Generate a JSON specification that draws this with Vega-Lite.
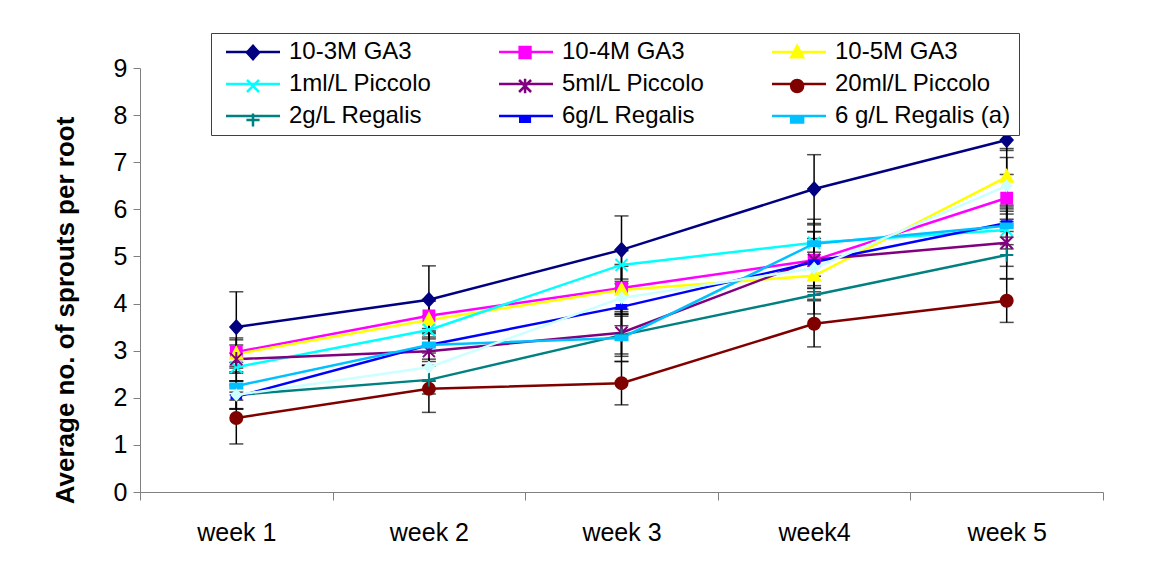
{
  "$schema": "https://vega.github.io/schema/vega-lite/v6.json",
  "width": 963,
  "height": 424,
  "autosize": "none",
  "padding": {"left": 140, "top": 68, "right": 46, "bottom": 73},
  "background": "white",
  "config": {
    "font": "Liberation Sans",
    "view": {"stroke": null},
    "axis": {"grid": false, "labelFont": "Liberation Sans", "titleFont": "Liberation Sans", "labelColor": "black", "titleColor": "black", "domainColor": "#808080", "tickColor": "#808080"},
    "legend": {"orient": "none", "legendX": 71, "legendY": -35, "direction": "horizontal", "columns": 3, "gridAlign": "all",
      "columnPadding": 25, "rowPadding": 8, "labelFontSize": 24, "labelFont": "Liberation Sans", "labelColor": "black", "labelLimit": 400,
      "symbolSize": 144, "labelOffset": 24, "symbolOffset": 23, "padding": 7, "symbolStrokeWidth": 2.5, "symbolOpacity": 1}
  },
  "data": {"values": [
    {"series": "10-3M GA3", "week": "week 1", "value": 3.50, "err": 0.75},
    {"series": "10-3M GA3", "week": "week 2", "value": 4.08, "err": 0.72},
    {"series": "10-3M GA3", "week": "week 3", "value": 5.14, "err": 0.72},
    {"series": "10-3M GA3", "week": "week4", "value": 6.43, "err": 0.73},
    {"series": "10-3M GA3", "week": "week 5", "value": 7.47, "err": 0.22},
    {"series": "10-4M GA3", "week": "week 1", "value": 2.97, "err": 0.3},
    {"series": "10-4M GA3", "week": "week 2", "value": 3.74, "err": 0.35},
    {"series": "10-4M GA3", "week": "week 3", "value": 4.33, "err": 0.5},
    {"series": "10-4M GA3", "week": "week4", "value": 4.92, "err": 0.6},
    {"series": "10-4M GA3", "week": "week 5", "value": 6.24, "err": 0.5},
    {"series": "10-5M GA3", "week": "week 1", "value": 2.93, "err": 0.3},
    {"series": "10-5M GA3", "week": "week 2", "value": 3.65, "err": 0.4},
    {"series": "10-5M GA3", "week": "week 3", "value": 4.29, "err": 0.5},
    {"series": "10-5M GA3", "week": "week4", "value": 4.59, "err": 0.5},
    {"series": "10-5M GA3", "week": "week 5", "value": 6.69, "err": 0.6},
    {"series": "1ml/L Piccolo", "week": "week 1", "value": 2.65, "err": 0.3},
    {"series": "1ml/L Piccolo", "week": "week 2", "value": 3.44, "err": 0.3},
    {"series": "1ml/L Piccolo", "week": "week 3", "value": 4.82, "err": 0.3},
    {"series": "1ml/L Piccolo", "week": "week4", "value": 5.29, "err": 0.5},
    {"series": "1ml/L Piccolo", "week": "week 5", "value": 5.56, "err": 0.4},
    {"series": "5ml/L Piccolo", "week": "week 1", "value": 2.82, "err": 0.3},
    {"series": "5ml/L Piccolo", "week": "week 2", "value": 2.99, "err": 0.3},
    {"series": "5ml/L Piccolo", "week": "week 3", "value": 3.38, "err": 0.5},
    {"series": "5ml/L Piccolo", "week": "week4", "value": 4.93, "err": 0.6},
    {"series": "5ml/L Piccolo", "week": "week 5", "value": 5.29, "err": 0.5},
    {"series": "20ml/L Piccolo", "week": "week 1", "value": 1.57, "err": 0.55},
    {"series": "20ml/L Piccolo", "week": "week 2", "value": 2.19, "err": 0.5},
    {"series": "20ml/L Piccolo", "week": "week 3", "value": 2.31, "err": 0.46},
    {"series": "20ml/L Piccolo", "week": "week4", "value": 3.57, "err": 0.49},
    {"series": "20ml/L Piccolo", "week": "week 5", "value": 4.06, "err": 0.46},
    {"series": "2g/L Regalis", "week": "week 1", "value": 2.06, "err": 0.3},
    {"series": "2g/L Regalis", "week": "week 2", "value": 2.38, "err": 0.3},
    {"series": "2g/L Regalis", "week": "week 3", "value": 3.33, "err": 0.4},
    {"series": "2g/L Regalis", "week": "week4", "value": 4.18, "err": 0.4},
    {"series": "2g/L Regalis", "week": "week 5", "value": 5.03, "err": 0.5},
    {"series": "6g/L Regalis", "week": "week 1", "value": 2.02, "err": 0.25},
    {"series": "6g/L Regalis", "week": "week 2", "value": 3.12, "err": 0.35},
    {"series": "6g/L Regalis", "week": "week 3", "value": 3.93, "err": 0.4},
    {"series": "6g/L Regalis", "week": "week4", "value": 4.88, "err": 0.5},
    {"series": "6g/L Regalis", "week": "week 5", "value": 5.71, "err": 0.3},
    {"series": "6 g/L Regalis (a)", "week": "week 1", "value": 2.25, "err": 0.3},
    {"series": "6 g/L Regalis (a)", "week": "week 2", "value": 3.12, "err": 0.3},
    {"series": "6 g/L Regalis (a)", "week": "week 3", "value": 3.27, "err": 0.5},
    {"series": "6 g/L Regalis (a)", "week": "week4", "value": 5.27, "err": 0.4},
    {"series": "6 g/L Regalis (a)", "week": "week 5", "value": 5.65, "err": 0.4},
    {"series": "Series 10", "week": "week 1", "value": 2.06, "err": 0.3},
    {"series": "Series 10", "week": "week 2", "value": 2.65, "err": 0.3},
    {"series": "Series 10", "week": "week 3", "value": 4.12, "err": 0.35},
    {"series": "Series 10", "week": "week4", "value": 4.75, "err": 0.5},
    {"series": "Series 10", "week": "week 5", "value": 6.5, "err": 0.6}
  ]},
  "encoding": {
    "x": {"field": "week", "type": "nominal", "sort": null,
      "scale": {"domain": ["week 1", "week 2", "week 3", "week4", "week 5"], "paddingInner": 0, "paddingOuter": 0},
      "axis": {"title": null, "labelAngle": 0, "labelFontSize": 25, "labelPadding": 20, "tickBand": "extent", "tickSize": 8}},
    "y": {"field": "value", "type": "quantitative",
      "scale": {"domain": [0, 9], "nice": false},
      "axis": {"title": "Average no. of sprouts per root", "values": [0,1,2,3,4,5,6,7,8,9], "labelFontSize": 25, "labelPadding": 6, "tickSize": 7, "titleFontSize": 26, "titleFontWeight": "bold", "titlePadding": 35, "titleY": 242}}
  },
  "layer": [
    {
      "mark": {"type": "errorbar", "color": "black", "thickness": 1.5, "ticks": {"size": 14, "thickness": 1.5, "color": "black"}},
      "encoding": {"y": {"field": "value", "type": "quantitative"}, "yError": {"field": "err"}}
    },
    {
      "transform": [{"filter": "datum.series !== 'Series 10'"}],
      "mark": {"type": "line", "strokeWidth": 2.5},
      "encoding": {
        "color": {"field": "series", "type": "nominal",
          "sort": ["10-3M GA3", "10-4M GA3", "10-5M GA3", "1ml/L Piccolo", "5ml/L Piccolo", "20ml/L Piccolo", "2g/L Regalis", "6g/L Regalis", "6 g/L Regalis (a)"],
          "scale": {"range": ["#000080", "#FF00FF", "#FFFF00", "#00FFFF", "#800080", "#800000", "#008080", "#0000FF", "#00C0FF"]},
          "legend": {"title": null, "symbolType": "M-4.5,0H4.5", "fillColor": "white", "strokeColor": "#404040"}
        }
      }
    },
    {
      "transform": [{"filter": "datum.series !== 'Series 10'"}],
      "mark": {"type": "point", "filled": true, "strokeWidth": 2, "size": 144, "opacity": 1},
      "encoding": {
        "fill": {"field": "series", "type": "nominal",
          "scale": {"domain": ["10-3M GA3", "10-4M GA3", "10-5M GA3", "1ml/L Piccolo", "5ml/L Piccolo", "20ml/L Piccolo", "2g/L Regalis", "6g/L Regalis", "6 g/L Regalis (a)"],
                    "range": ["#000080", "#FF00FF", "#FFFF00", "#00FFFF", "#800080", "#800000", "#008080", "#0000FF", "#00C0FF"]},
          "legend": {"title": null, "labelExpr": "''", "columnPadding": 201.06}},
        "stroke": {"field": "series", "type": "nominal",
          "scale": {"domain": ["10-3M GA3", "10-4M GA3", "10-5M GA3", "1ml/L Piccolo", "5ml/L Piccolo", "20ml/L Piccolo", "2g/L Regalis", "6g/L Regalis", "6 g/L Regalis (a)"],
                    "range": ["#000080", "#FF00FF", "#FFFF00", "#00FFFF", "#800080", "#800000", "#008080", "#0000FF", "#00C0FF"]},
          "legend": {"title": null, "labelExpr": "''", "columnPadding": 201.06}},
        "shape": {"field": "series", "type": "nominal",
          "scale": {"domain": ["10-3M GA3", "10-4M GA3", "10-5M GA3", "1ml/L Piccolo", "5ml/L Piccolo", "20ml/L Piccolo", "2g/L Regalis", "6g/L Regalis", "6 g/L Regalis (a)"],
                    "range": ["M0,-1.1L1,0L0,1.1L-1,0Z", "M-0.9,-0.9H0.9V0.9H-0.9Z", "M0,-1.1L1,0.8H-1Z", "M-1,-1L1,1M-1,1L1,-1", "M-1,-1L1,1M-1,1L1,-1M0,-1.2V1.2", "M1,0A1,1,0,1,1,-1,0A1,1,0,1,1,1,0Z", "M-1.1,0H1.1M0,-1.1V1.1", "M-0.8,-0.3H0.8V0.3H-0.8Z", "M-1,-0.4H1V0.4H-1Z"]},
          "legend": {"title": null, "labelExpr": "''", "columnPadding": 201.06}}
      }
    },
    {
      "transform": [{"filter": "datum.series === 'Series 10'"}],
      "mark": {"type": "line", "strokeWidth": 2.5, "color": "#CCFFFF"},
      "encoding": {"detail": {"field": "series"}}
    },
    {
      "transform": [{"filter": "datum.series === 'Series 10'"}],
      "mark": {"type": "point", "filled": true, "size": 144, "shape": "M0,-1.1L1,0L0,1.1L-1,0Z", "color": "#CCFFFF", "opacity": 1},
      "encoding": {}
    }
  ]
}
